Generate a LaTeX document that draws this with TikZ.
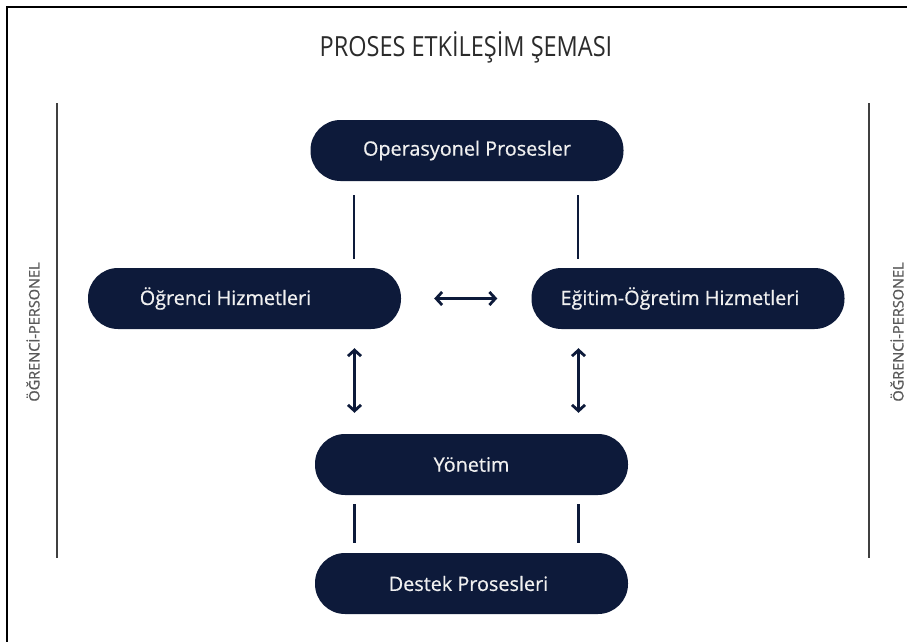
\documentclass[tikz,border=0pt]{standalone}
\usepackage{fontspec}
\setmainfont{Open Sans}
\usetikzlibrary{arrows.meta}
\definecolor{navy}{HTML}{0D1A3A}
\definecolor{titlegray}{HTML}{2B2B2B}
\definecolor{txtlight}{HTML}{F0F0F0}
\tikzset{
  pill/.style={draw=none, fill=navy, rounded corners=30pt, minimum width=313pt, minimum height=61pt, inner sep=0pt, text=txtlight, font=\fontsize{19.8}{22}\selectfont\addfontfeature{FakeBold=0.6}},
  conn/.style={draw=navy, line width=2.8pt},
  dbl/.style={conn, {Straight Barb[length=6pt,width=13pt]}-{Straight Barb[length=6pt,width=13pt]}},
  sideline/.style={draw=black!75, line width=1.6pt},
  sidetext/.style={text=black!65, font=\fontsize{14.5}{15}\selectfont\addfontfeature{FakeBold=0.8}, inner sep=0pt},
  frameline/.style={draw=black, line width=2.2pt}
}
\begin{document}
\begin{tikzpicture}[x=1pt,y=-1pt]
\useasboundingbox (0,0) rectangle (907,642);
\fill[white] (0,0) rectangle (907,642);
% cropped frame (left and top edges)
\coordinate (fTL) at (7,7);
\coordinate (fTR) at (907,7);
\coordinate (fBL) at (7,642);
\draw[frameline] (fBL) -- (fTL) -- (fTR);
% title
\node[text=titlegray, font=\fontsize{23.5}{26}\selectfont, inner sep=0pt] (title) at (466,47) {\scalebox{1}[1.18]{PROSES ETKİLEŞİM ŞEMASI}};
% side lines
\coordinate (lt) at (57,103); \coordinate (lb) at (57,558);
\coordinate (rt) at (869,103); \coordinate (rb) at (869,558);
\draw[sideline] (lt) -- (lb);
\draw[sideline] (rt) -- (rb);
\node[sidetext, rotate=90] (lside) at (33,332) {ÖĞRENCİ-PERSONEL};
\node[sidetext, rotate=90] (rside) at (897,332) {ÖĞRENCİ-PERSONEL};
% boxes
\node[pill] (op) at (467,150.5) {Operasyonel Prosesler};
\node[pill] (ogr) at (244.5,298.5) {\hspace*{-38pt}Öğrenci Hizmetleri};
\node[pill] (egt) at (688,298.5) {\hspace*{-16pt}Eğitim-Öğretim Hizmetleri};
\node[pill] (yon) at (471.5,464.5) {Yönetim};
\node[pill] (dst) at (471.5,583.5) {\hspace*{-6pt}Destek Prosesleri};
% connectors
\draw[conn, shorten <=14pt, shorten >=9pt] ([xshift=-113pt]op.south) -- ([xshift=-113pt]op.south |- ogr.north);
\draw[conn, shorten <=14pt, shorten >=9pt] ([xshift=111pt]op.south) -- ([xshift=111pt]op.south |- egt.north);
\draw[dbl, shorten <=33pt, shorten >=34pt] (ogr.east) -- (egt.west);
\draw[dbl, shorten <=19pt, shorten >=21pt] ([xshift=-117pt]yon.north |- ogr.south) -- ([xshift=-117pt]yon.north);
\draw[dbl, shorten <=19pt, shorten >=21pt] ([xshift=107pt]yon.north |- egt.south) -- ([xshift=107pt]yon.north);
\draw[conn, shorten <=9pt, shorten >=10pt] ([xshift=-117pt]yon.south) -- ([xshift=-117pt]yon.south |- dst.north);
\draw[conn, shorten <=9pt, shorten >=10pt] ([xshift=107pt]yon.south) -- ([xshift=107pt]yon.south |- dst.north);
\end{tikzpicture}
\end{document}
